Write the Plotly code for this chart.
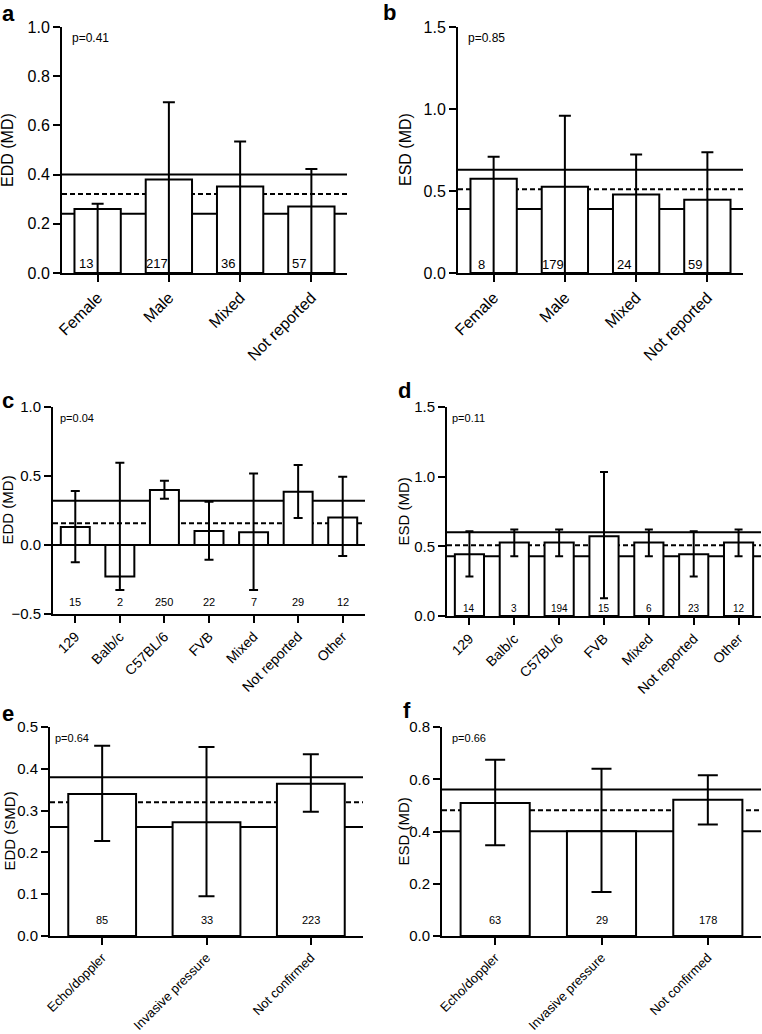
import plotly.graph_objects as go

# a: EDD by sex
sex_cats = ['Female', 'Male', 'Mixed', 'Not reported']
a_mean = [0.26, 0.38, 0.352, 0.27]
a_upper = [0.282, 0.694, 0.535, 0.423]
a_lower = [0.0, 0.0, 0.0, 0.0]
a_n = [13, 217, 36, 57]
a_ref = [0.40, 0.321, 0.241]   # upper CI, overall estimate, lower CI

# b: ESD by sex
b_mean = [0.575, 0.526, 0.478, 0.447]
b_upper = [0.709, 0.959, 0.722, 0.736]
b_lower = [0.0, 0.0, 0.0, 0.0]
b_n = [8, 179, 24, 59]
b_ref = [0.63, 0.51, 0.39]

# c: EDD by strain
strain_cats = ['129', 'Balb/c', 'C57BL/6', 'FVB', 'Mixed', 'Not reported', 'Other']
c_mean = [0.13, -0.229, 0.398, 0.101, 0.092, 0.386, 0.20]
c_upper = [0.391, 0.596, 0.465, 0.313, 0.518, 0.579, 0.494]
c_lower = [-0.125, -0.326, 0.335, -0.106, -0.326, 0.195, -0.08]
c_n = [15, 2, 250, 22, 7, 29, 12]
c_ref = [0.321, 0.157, 0.0]

# d: ESD by strain
d_mean = [0.443, 0.527, 0.527, 0.573, 0.527, 0.443, 0.527]
d_upper = [0.609, 0.621, 0.621, 1.033, 0.621, 0.609, 0.621]
d_lower = [0.283, 0.429, 0.429, 0.127, 0.429, 0.283, 0.429]
d_n = [14, 3, 194, 15, 6, 23, 12]
d_ref = [0.601, 0.508, 0.429]

# e: EDD by confirmation method
method_cats = ['Echo/doppler', 'Invasive pressure', 'Not confirmed']
e_mean = [0.340, 0.272, 0.364]
e_upper = [0.455, 0.452, 0.435]
e_lower = [0.227, 0.095, 0.297]
e_n = [85, 33, 223]
e_ref = [0.380, 0.320, 0.261]

# f: ESD by confirmation method
f_mean = [0.509, 0.401, 0.522]
f_upper = [0.675, 0.640, 0.615]
f_lower = [0.347, 0.168, 0.427]
f_n = [63, 29, 178]
f_ref = [0.561, 0.481, 0.401]

W, H = 762, 1034
FONT = 'Arial, Liberation Sans, sans-serif'

# layout of each panel in pixels: axis left/right, plot top/bottom
panels = [
    dict(key='a', cats=sex_cats, mean=a_mean, up=a_upper, lo=a_lower, n=a_n, ref=a_ref,
         p='p=0.41', ytitle='EDD (MD)', yr=[0, 1.0], dtick=0.2,
         px=(62, 347), py=(27, 273), fs=16, tfs=16, nfs=13, pfs=12, ny=0.037, nshift=-12,
         cap=6, titlex=8, letter=(0, 13), pshift=8),
    dict(key='b', cats=sex_cats, mean=b_mean, up=b_upper, lo=b_lower, n=b_n, ref=b_ref,
         p='p=0.85', ytitle='ESD (MD)', yr=[0, 1.5], dtick=0.5,
         px=(458, 743), py=(27, 273), fs=16, tfs=16, nfs=13, pfs=12, ny=0.053, nshift=-12,
         cap=6, titlex=406, letter=(381, 12), pshift=8),
    dict(key='c', cats=strain_cats, mean=c_mean, up=c_upper, lo=c_lower, n=c_n, ref=c_ref,
         p='p=0.04', ytitle='EDD (MD)', yr=[-0.5, 1.0], dtick=0.5,
         px=(53, 365), py=(407, 614), fs=15, tfs=14, nfs=11, pfs=11, ny=-0.415, nshift=0,
         cap=4.5, titlex=7, letter=(0, 400), pshift=5),
    dict(key='d', cats=strain_cats, mean=d_mean, up=d_upper, lo=d_lower, n=d_n, ref=d_ref,
         p='p=0.11', ytitle='ESD (MD)', yr=[0, 1.5], dtick=0.5,
         px=(447, 761), py=(407, 616), fs=15, tfs=14, nfs=10, pfs=11, ny=0.053, nshift=0,
         cap=4, titlex=403, letter=(396, 390), pshift=3),
    dict(key='e', cats=method_cats, mean=e_mean, up=e_upper, lo=e_lower, n=e_n, ref=e_ref,
         p='p=0.64', ytitle='EDD (SMD)', yr=[0, 0.5], dtick=0.1,
         px=(50, 363), py=(727, 936), fs=15, tfs=13, nfs=11, pfs=11, ny=0.0375, nshift=0,
         cap=8, titlex=9, letter=(0, 713), pshift=3),
    dict(key='f', cats=method_cats, mean=f_mean, up=f_upper, lo=f_lower, n=f_n, ref=f_ref,
         p='p=0.66', ytitle='ESD (MD)', yr=[0, 0.8], dtick=0.2,
         px=(442, 761), py=(727, 936), fs=15, tfs=13, nfs=11, pfs=11, ny=0.06, nshift=0,
         cap=10, titlex=403, letter=(401, 710), pshift=8),
]

fig = go.Figure()
annotations = []
shapes = []

for i, pnl in enumerate(panels):
    sfx = '' if i == 0 else str(i + 1)
    xa, ya = 'x' + sfx, 'y' + sfx
    ncat = len(pnl['cats'])

    fig.add_trace(go.Bar(
        x=pnl['cats'], y=pnl['mean'], xaxis=xa, yaxis=ya,
        width=0.65,
        marker=dict(color='white', line=dict(color='black', width=2)),
        error_y=dict(type='data', symmetric=False,
                     array=[u - m for u, m in zip(pnl['up'], pnl['mean'])],
                     arrayminus=[m - l for m, l in zip(pnl['mean'], pnl['lo'])],
                     color='black', thickness=2, width=pnl['cap']),
        showlegend=False, hoverinfo='skip'
    ))

    x0, x1 = pnl['px']
    top, bot = pnl['py']
    fig.update_layout(**{
        'xaxis' + sfx: dict(
            domain=[x0 / W, x1 / W], anchor=ya, type='category', automargin=False,
            range=[-0.5, ncat - 0.5], showline=True, linecolor='black', linewidth=2,
            ticks='outside', ticklen=7, tickwidth=2, tickcolor='black',
            tickangle=-45, tickfont=dict(family=FONT, size=pnl['tfs'], color='black'),
            showgrid=False, zeroline=False, fixedrange=True
        ),
        'yaxis' + sfx: dict(
            domain=[(H - bot) / H, (H - top) / H], anchor=xa, automargin=False,
            range=pnl['yr'], dtick=pnl['dtick'], tick0=0, tickformat='.1f',
            showline=True, linecolor='black', linewidth=2,
            ticks='outside', ticklen=7, tickwidth=2, tickcolor='black',
            tickfont=dict(family=FONT, size=pnl['fs'], color='black'),
            showgrid=False, zeroline=False, fixedrange=True
        ),
    })

    # overall estimate (dashed) with its confidence limits (solid)
    for j, val in enumerate(pnl['ref']):
        shapes.append(dict(
            type='line', xref=xa + ' domain', yref=ya, x0=0, x1=1, y0=val, y1=val,
            line=dict(color='black', width=2, dash='5px,3px' if j == 1 else 'solid'),
            layer='below'
        ))

    # number of comparisons in each bar (category index, since '129' looks numeric)
    for k, n in enumerate(pnl['n']):
        annotations.append(dict(
            x=k, y=pnl['ny'], xref=xa, yref=ya, text=str(n), showarrow=False,
            xshift=pnl['nshift'], font=dict(family=FONT, size=pnl['nfs'], color='black')
        ))

    annotations.append(dict(
        x=0, y=1, xref=xa + ' domain', yref=ya + ' domain', text=pnl['p'],
        showarrow=False, xanchor='left', yanchor='middle', xshift=pnl['pshift'], yshift=-11,
        font=dict(family=FONT, size=pnl['pfs'], color='black')
    ))

    annotations.append(dict(
        x=pnl['titlex'] / W, y=0.5, xref='paper', yref=ya + ' domain', text=pnl['ytitle'],
        textangle=-90, showarrow=False, xanchor='center', yanchor='middle',
        font=dict(family=FONT, size=pnl['fs'], color='black')
    ))

    lx, ly = pnl['letter']
    annotations.append(dict(
        x=lx / W, y=(H - ly) / H, xref='paper', yref='paper', text='<b>%s</b>' % pnl['key'],
        showarrow=False, xanchor='left', yanchor='middle',
        font=dict(family=FONT, size=22, color='black')
    ))

fig.update_layout(
    template='none',
    width=W, height=H,
    margin=dict(l=0, r=0, t=0, b=0, autoexpand=False),
    paper_bgcolor='white', plot_bgcolor='white',
    annotations=annotations, shapes=shapes,
    font=dict(family=FONT, color='black')
)

# drop the page's default 8px body margin so the figure sits at the window corner
fig.write_html("out.html", config={'displayModeBar': False},
               post_script="document.body.style.margin = '0';")
